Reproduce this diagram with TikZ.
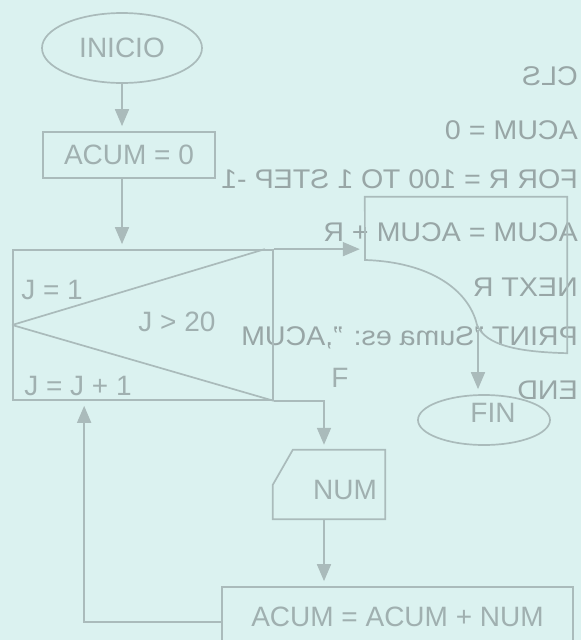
\documentclass[tikz,border=0pt]{standalone}
\usepackage{fontspec}
\setmainfont{Liberation Sans}
\usetikzlibrary{positioning, shapes.geometric, arrows.meta}

\definecolor{paper}{RGB}{219,242,240}
\definecolor{ink}{RGB}{170,187,187}
\definecolor{inktext}{RGB}{160,176,176}
\definecolor{bleed}{RGB}{152,166,166}

\begin{document}
\begin{tikzpicture}[
x=1pt, y=-1pt,
terminal/.style={ellipse, draw=ink, line width=1.7pt, inner sep=0, text=inktext, font=\fontsize{28}{30}\selectfont},
process/.style={rectangle, draw=ink, line width=1.7pt, inner sep=0, text=inktext, font=\fontsize{28}{30}\selectfont},
blank/.style={rectangle, draw=none, inner sep=0},
lbl/.style={inner sep=0, text=inktext, font=\fontsize{28}{30}\selectfont},
flow/.style={draw=ink, line width=1.7pt, -{Triangle[length=17pt,width=14pt]}, shorten >=5pt},
line/.style={draw=ink, line width=1.7pt},
backtext/.style={xscale=-1.06, anchor=west, inner sep=0, text=bleed, font=\fontsize{27}{30}\selectfont}
]
\fill[paper] (0,0) rectangle (581,640);
\useasboundingbox (0,0) rectangle (581,640);
\clip (0,0) rectangle (581,640);

%Back of the sheet
\node[backtext] (b1) at (578,76)  {CLS};
\node[backtext] (b2) at (578,130) {ACUM = 0};
\node[backtext] (b3) at (578,179) {FOR R = 100 TO 1 STEP -1};
\node[backtext] (b4) at (578,232) {ACUM = ACUM + R};
\node[backtext] (b5) at (578,287) {NEXT R};
\node[backtext] (b6) at (578,338) {PRINT "Suma es: ",ACUM};
\node[backtext] (b7) at (578,390) {END};

%Nodes
\node[terminal, minimum width=160pt, minimum height=70pt] (inicio) at (122,48)  {INICIO};
\node[process, minimum width=172pt, minimum height=46pt]  (acum0)  at (129,155) {ACUM = 0};
\node[process, minimum width=260pt, minimum height=150pt] (loop)   at (143,325) {};
\node[blank,   minimum width=202pt, minimum height=156pt] (outbox) at (466,275) {};
\node[terminal, minimum width=132pt, minimum height=50pt] (fin)    at (484,420) {};
\node[blank,   minimum width=112pt, minimum height=69pt]  (num)    at (329,484.5) {};
\node[process, minimum width=351pt, minimum height=60pt]  (acumnum) at (397.5,617) {ACUM = ACUM + NUM};
\coordinate (outtail) at (478,330);

\node[lbl] (jini)    at (52,290)  {J = 1};
\node[lbl] (jcond)   at (177,322) {J > 20};
\node[lbl] (jinc)    at (78,386)  {J = J + 1};
\node[lbl] (lblf)    at (340,378) {F};
\node[lbl] (fintext) at ([shift={(9,-7)}]fin.center) {FIN};
\node[lbl] (numtext) at ([shift={(16,5)}]num.center) {NUM};

%Shapes
\draw[line] (loop.west) -- ([xshift=-9pt]loop.north east);
\draw[line] (loop.west) -- (loop.south east);
\draw[line] (outbox.north west) -- (outbox.north east) -- (outbox.south east)
  .. controls (520,352) and (486,346) .. (477,325)
  .. controls (469,290) and (430,262) .. (365,260) -- cycle;
\draw[line] (num.south west) -- ([yshift=-35pt]num.north west) -- ([xshift=20pt]num.north west)
  -- (num.north east) -- (num.south east) -- cycle;

%Lines
\draw[flow] (inicio.south) -- (inicio.south |- acum0.north);
\draw[flow] (acum0.south -| inicio.south) -- (inicio.south |- loop.north);
\draw[flow] (loop.north east) -- (loop.north east -| outbox.west);
\draw[flow] (outtail) -- (outtail |- fin.north);
\draw[flow] (loop.south east) -| ([xshift=-5pt]num.north);
\draw[flow] ([xshift=-5pt]num.south) -- ([xshift=-5pt]num.south |- acumnum.north);
\draw[flow] ([yshift=-5pt]acumnum.west) -| ([xshift=72pt]loop.south west);
\end{tikzpicture}
\end{document}
